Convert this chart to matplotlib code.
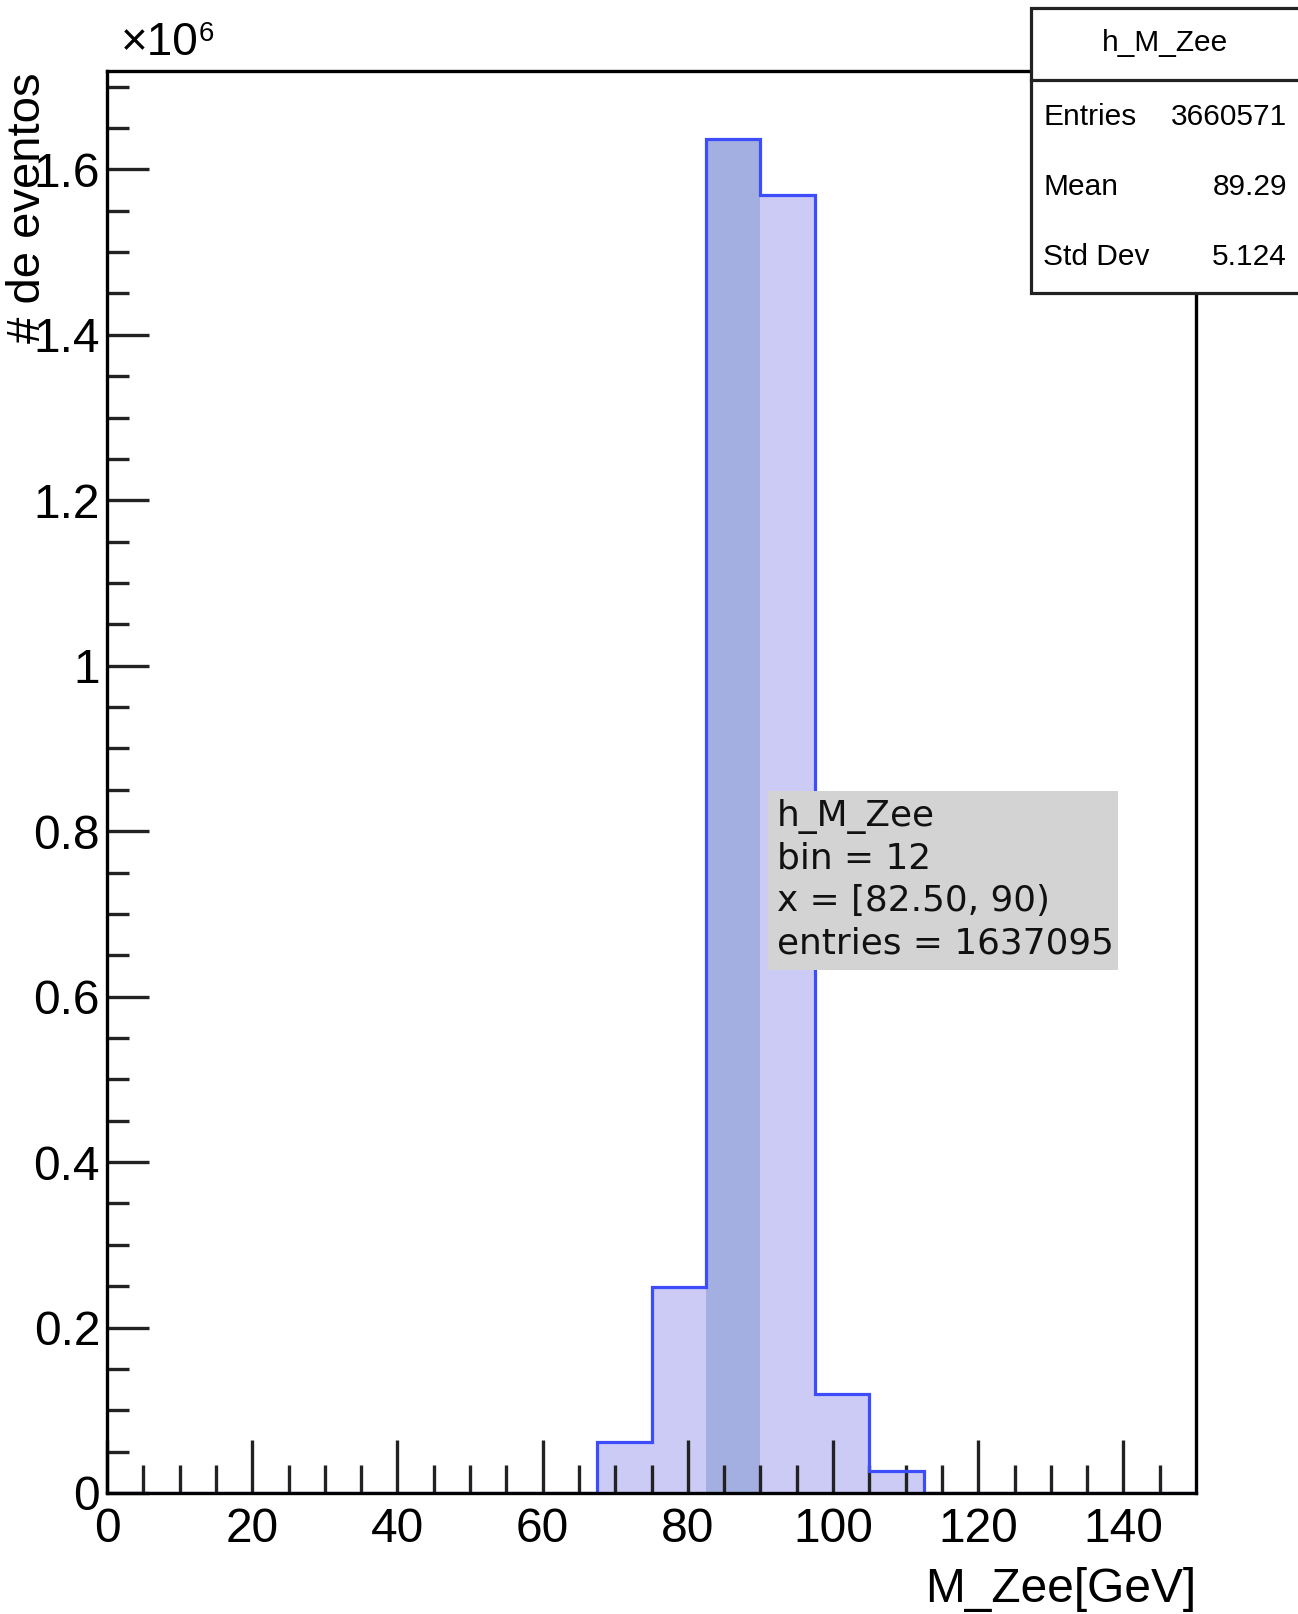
import numpy as np
import matplotlib.pyplot as plt
from matplotlib.patches import Rectangle
from matplotlib.lines import Line2D

# histogram h_M_Zee: 20 bins from 0 to 150 GeV
x_lo, x_hi, n_bins = 0, 150, 20
counts = [0, 0, 0, 0, 0, 0, 0, 0, 0,
          61700, 249000, 1637095, 1569000, 120000, 26600,
          0, 0, 0, 0, 0]
hl_bin = 12  # bin picked in the tooltip (1-based, ROOT style)

stat_title = "h_M_Zee"
stat_names = ["Entries", "Mean", "Std Dev"]
stat_vals = ["3660571", "89.29", "5.124"]
tip_lines = ["h_M_Zee", "bin = 12", "x = [82.50, 90)", "entries = 1637095"]

edges = np.linspace(x_lo, x_hi, n_bins + 1)
vals = np.array(counts) / 1e6

W, H = 1298, 1614
fig = plt.figure(figsize=(W / 100, H / 100), dpi=100)
plt.rcParams['font.family'] = ['Liberation Sans', 'DejaVu Sans']

def fx(px):
    return px / W

def fy(py):
    return 1 - py / H

ax = fig.add_axes([fx(107), fy(1493), fx(1196 - 107), fy(71) - fy(1493)])

fill_c = '#cbcbf6'
dark_c = '#a2afe0'
line_c = '#3d4dfb'

ax.stairs(vals, edges, fill=True, color=fill_c, linewidth=0, zorder=1)
b = hl_bin - 1
ax.stairs(vals[b:b + 1], edges[b:b + 2], fill=True, color=dark_c, linewidth=0, zorder=1.5)
ax.stairs(vals, edges, fill=False, color=line_c, linewidth=2.3, zorder=2)

ymax = 1.05 * vals.max()
ax.set_xlim(x_lo, x_hi)
ax.set_ylim(0, ymax)

ax.set_xticks(np.arange(0, 141, 20))
ax.set_xticks(np.arange(5, 150, 5), minor=True)
ax.set_yticks(np.arange(0, 1.61, 0.2))
ax.set_yticks(np.arange(0.05, ymax, 0.05), minor=True)
ax.set_yticklabels(['0', '0.2', '0.4', '0.6', '0.8', '1', '1.2', '1.4', '1.6'])
ax.tick_params(axis='both', which='both', direction='in', width=2.4, colors='#222222',
               labelcolor='black', labelsize=34.5, top=False, right=False)
ax.tick_params(axis='x', which='major', length=38, pad=10)
ax.tick_params(axis='x', which='minor', length=20)
ax.tick_params(axis='y', which='major', length=30, pad=5)
ax.tick_params(axis='y', which='minor', length=16)
for s in ax.spines.values():
    s.set_linewidth(2.4)
    s.set_zorder(3)

# axis titles, ROOT style (aligned to the end of the axis)
fig.text(fx(1196), fy(1590), "M_Zee[GeV]", ha='right', va='center', fontsize=34.5)
fig.text(fx(28), fy(72), "# de eventos", ha='center', va='top', rotation=90, fontsize=34)

# x10^6 exponent label
fig.text(fx(121), fy(43), "×10", ha='left', va='center', fontsize=33)
fig.text(fx(199), fy(34), "6", ha='left', va='center', fontsize=20)

# stats box (runs past the right edge of the canvas)
bx0, by0, by1, bsep = 1031, 8, 293, 80
fig.patches.append(Rectangle((fx(bx0), fy(by1)), fx(W + 20 - bx0), fy(by0) - fy(by1),
                             transform=fig.transFigure, facecolor='white',
                             edgecolor='#222222', linewidth=2.3, zorder=5))
fig.lines.append(Line2D([fx(bx0), 1.0], [fy(bsep), fy(bsep)], transform=fig.transFigure,
                        color='#222222', linewidth=2.3, zorder=6))
fig.text(fx(1165), fy(43), stat_title, ha='center', va='center', fontsize=21.5, zorder=7)
for i, (n, v) in enumerate(zip(stat_names, stat_vals)):
    yy = fy(117 + i * 70)
    fig.text(fx(1043), yy, n, ha='left', va='center', fontsize=21.5, zorder=7)
    fig.text(fx(1287), yy, v, ha='right', va='center', fontsize=21.5, zorder=7)

# tooltip box
fig.patches.append(Rectangle((fx(768), fy(970)), fx(1118 - 768), fy(791) - fy(970),
                             transform=fig.transFigure, facecolor='#d3d3d3',
                             edgecolor='none', zorder=5))
for i, t in enumerate(tip_lines):
    fig.text(fx(777), fy(817 + i * 42), t, ha='left', va='center', fontsize=25.8,
             family='DejaVu Sans', color='#111111', zorder=7)

plt.savefig('out.png', dpi=100)
